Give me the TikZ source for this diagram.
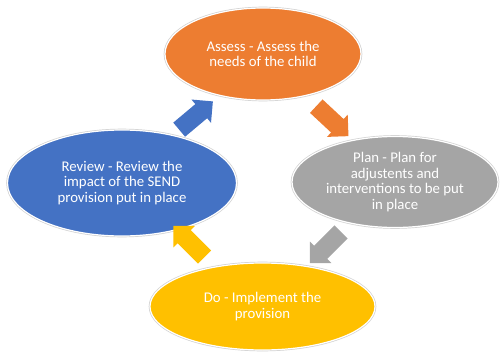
\documentclass[tikz,border=0pt]{standalone}
\usepackage{fontspec}
\setmainfont{Carlito}
\usepackage{tikz}
\usetikzlibrary{shapes,calc}

\definecolor{assessorange}{HTML}{ED7D31}
\definecolor{plangray}{HTML}{A5A5A5}
\definecolor{doyellow}{HTML}{FFC000}
\definecolor{reviewblue}{HTML}{4472C4}

\tikzset{
  stage/.style={ellipse, inner sep=0pt, text=white, align=center,
    font=\fontsize{14.8}{15.5}\selectfont, draw=white, line width=1.2pt,
    preaction={draw=black!18, line width=2.6pt}},
  cyclearrow/.style={single arrow, minimum height=44pt, inner sep=9pt,
    single arrow head extend=6pt, draw=none}
}

\begin{document}
\begin{tikzpicture}[x=1pt, y=-1pt]
    \useasboundingbox (0,0) rectangle (500,353);

    % Stages
    \node[stage, fill=assessorange, minimum width=196pt, minimum height=92pt] (assess) at (263,54)
        {Assess - Assess the\\needs of the child};
    \node[stage, fill=plangray, minimum width=206pt, minimum height=91pt] (plan) at (395,182)
        {Plan - Plan for\\adjustents and\\interventions to be put\\in place};
    \node[stage, fill=doyellow, minimum width=225pt, minimum height=87pt] (do) at (262.5,306.5)
        {Do - Implement the\\provision};
    \node[stage, fill=reviewblue, minimum width=229pt, minimum height=106pt] (review) at (122,183)
        {Review - Review the\\impact of the SEND\\provision put in place};

    % Arrows between stages
    \node[cyclearrow, fill=assessorange, rotate=-43] (a1) at ($(assess)!0.5!(plan)$) {};
    \node[cyclearrow, fill=plangray, rotate=-135] (a2) at ($(plan)!0.5!(do)$) {};
    \node[cyclearrow, fill=doyellow, rotate=135] (a3) at ($(do)!0.5!(review)$) {};
    \node[cyclearrow, fill=reviewblue, rotate=40] (a4) at ($(review)!0.5!(assess)$) {};

\end{tikzpicture}
\end{document}
